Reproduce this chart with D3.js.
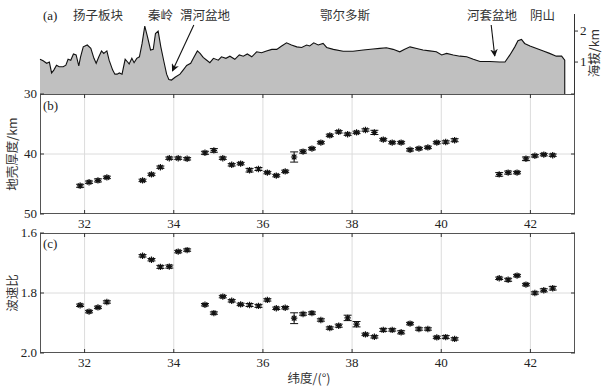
<!DOCTYPE html>
<html><head><meta charset="utf-8">
<script src="https://cdn.jsdelivr.net/npm/d3@7"></script>
<style>
body{margin:0;background:#fff;}
svg{display:block;}
.num{font-family:"Liberation Serif","Times New Roman",serif;font-size:13px;fill:#222;}
.cjk{font-family:"Noto Sans CJK SC",sans-serif;font-size:12.5px;fill:#333;}
</style></head><body>
<svg id="c" width="611" height="387"></svg>
<script>
// ---- data ----
const topoLat = [31.00,31.07,31.15,31.21,31.26,31.31,31.37,31.43,31.52,31.58,31.63,31.69,31.75,31.81,31.87,31.91,31.97,32.06,32.14,32.21,32.26,32.32,32.38,32.43,32.50,32.55,32.63,32.68,32.73,32.78,32.84,32.91,32.96,33.00,33.06,33.11,33.17,33.23,33.29,33.35,33.41,33.48,33.54,33.59,33.65,33.71,33.78,33.84,33.89,33.95,34.03,34.14,34.21,34.29,34.38,34.44,34.53,34.59,34.66,34.74,34.81,34.89,35.00,35.07,35.17,35.26,35.37,35.47,35.56,35.65,35.75,35.86,35.97,36.08,36.20,36.31,36.42,36.53,36.64,36.76,36.87,36.98,37.05,37.14,37.24,37.35,37.43,37.58,37.80,38.02,38.25,38.47,38.62,38.77,38.92,39.07,39.18,39.30,39.45,39.59,39.74,39.89,40.01,40.12,40.27,40.42,40.57,40.72,40.87,41.09,41.31,41.43,41.54,41.65,41.72,41.80,41.87,41.99,42.14,42.29,42.43,42.58,42.70,42.77];
const topoElev = [1.09,1.04,0.96,1.00,0.65,0.74,0.90,0.85,0.85,0.90,1.09,1.06,1.26,1.23,0.88,1.17,1.49,1.55,1.44,1.12,0.96,1.17,1.36,1.28,1.36,1.06,0.74,0.61,0.61,0.65,0.61,1.09,1.01,0.94,1.12,0.98,1.12,1.17,1.60,2.16,1.82,1.39,1.41,1.92,2.00,1.49,1.01,0.61,0.44,0.42,0.51,0.61,0.74,0.89,0.96,1.12,1.36,1.28,1.15,1.06,0.98,1.12,1.06,1.17,1.12,1.19,1.09,1.23,1.19,1.26,1.17,1.33,1.30,1.36,1.41,1.41,1.52,1.62,1.55,1.49,1.47,1.55,1.52,1.62,1.55,1.60,1.47,1.41,1.35,1.35,1.39,1.42,1.44,1.46,1.41,1.33,1.41,1.49,1.44,1.39,1.36,1.33,1.23,1.28,1.23,1.19,1.17,1.09,1.02,1.02,1.00,1.00,1.23,1.49,1.69,1.73,1.60,1.52,1.44,1.36,1.28,1.19,1.19,1.06];

const stationLat = [31.9,32.1,32.3,32.5,33.3,33.5,33.7,33.9,34.1,34.3,34.7,34.9,35.1,35.3,35.5,35.7,35.9,36.1,36.3,36.5,36.7,36.9,37.1,37.3,37.5,37.7,37.9,38.1,38.3,38.5,38.7,38.9,39.1,39.3,39.5,39.7,39.9,40.1,40.3,41.3,41.5,41.7,41.9,42.1,42.3,42.5];
const thickness = [45.3,44.7,44.4,43.9,44.4,43.4,42.2,40.7,40.7,40.8,39.8,39.4,40.7,41.8,41.6,42.7,42.5,43.1,43.6,42.9,40.5,39.6,39.1,38.1,36.9,36.3,36.7,36.4,36.0,36.4,37.6,38.1,38.1,39.3,39.1,38.9,38.1,38.0,37.7,43.4,43.1,43.1,40.8,40.3,40.1,40.2];
const thicknessErr = [0.25,0.2,0.25,0.2,0.2,0.2,0.2,0.2,0.2,0.2,0.25,0.3,0.2,0.2,0.2,0.3,0.25,0.2,0.2,0.2,0.85,0.25,0.2,0.2,0.2,0.2,0.2,0.2,0.2,0.35,0.2,0.2,0.2,0.2,0.2,0.2,0.2,0.2,0.25,0.3,0.25,0.2,0.3,0.2,0.2,0.2];
const vpvs = [1.841,1.862,1.848,1.830,1.676,1.689,1.713,1.712,1.662,1.657,1.839,1.867,1.812,1.826,1.838,1.840,1.843,1.823,1.851,1.849,1.884,1.870,1.867,1.890,1.917,1.909,1.883,1.904,1.938,1.946,1.923,1.923,1.931,1.902,1.920,1.920,1.948,1.947,1.953,1.751,1.756,1.742,1.772,1.800,1.791,1.784];
const vpvsErr = [0.004,0.004,0.004,0.004,0.004,0.004,0.005,0.005,0.004,0.004,0.004,0.004,0.004,0.004,0.004,0.005,0.005,0.004,0.004,0.004,0.018,0.004,0.004,0.004,0.004,0.005,0.009,0.009,0.004,0.004,0.005,0.004,0.005,0.004,0.004,0.004,0.004,0.005,0.004,0.004,0.005,0.004,0.004,0.004,0.005,0.006];

const xTicks = [32,34,36,38,40,42];
const thickTicks = [30,40,50];
const vpvsTicks = [1.6,1.8,2.0];
const elevTicks = [1,2];
const regionNames = ["扬子板块","秦岭","渭河盆地","鄂尔多斯","河套盆地","阴山"];
const regionLat = [31.74,33.42,34.14,37.28,40.58,41.99];

// ---- drawing ----
const svg = d3.select("#c");
const L=40,R=575;
const x = d3.scaleLinear([31,43],[L,R]);
const ya = d3.scaleLinear([-0.03,2.55],[94,14]);
const yb = d3.scaleLinear([30,50],[94,214]);
const yc = d3.scaleLinear([1.6,2.0],[233,353]);

// panel a
const topo = topoLat.map((d,i)=>({lat:d,e:topoElev[i]}));
svg.append("path").datum(topo)
  .attr("d",d3.area().x(d=>x(d.lat)).y0(ya(-0.03)).y1(d=>ya(d.e)))
  .attr("fill","#c0c0c0");
const last = topo[topo.length-1];
svg.append("path").datum(topo.concat([{lat:last.lat,e:-0.03}]))
  .attr("d",d3.line().x(d=>x(d.lat)).y(d=>ya(d.e)))
  .attr("fill","none").attr("stroke","#111").attr("stroke-width",1.1);
// right axis panel a
const axA = svg.append("g");
axA.append("line").attr("x1",R-0.5).attr("x2",R-0.5).attr("y1",14).attr("y2",94).attr("stroke","#333");
elevTicks.forEach(t=>{
  axA.append("line").attr("x1",R-0.5).attr("x2",R+3).attr("y1",ya(t)).attr("y2",ya(t)).attr("stroke","#333");
  axA.append("text").attr("class","num").attr("x",R+5).attr("y",ya(t)+4).text(t);
});
svg.append("text").attr("class","cjk").attr("transform","translate(599,53) rotate(-90)")
  .attr("text-anchor","middle").text("海拔/km");
svg.append("text").attr("class","num").attr("x",43).attr("y",20).text("(a)");
regionNames.forEach((n,i)=>{
  svg.append("text").attr("class","cjk").attr("x",x(regionLat[i])).attr("y",20).text(n);
});
// arrows
const defs = svg.append("defs");
defs.append("marker").attr("id","ah").attr("viewBox","0 0 10 10").attr("refX",9).attr("refY",5)
  .attr("markerWidth",7).attr("markerHeight",7).attr("orient","auto")
  .append("path").attr("d","M0,0 L10,5 L0,10 L3,5 Z").attr("fill","#111");
svg.append("line").attr("x1",x(34.45)).attr("y1",25).attr("x2",x(33.97)).attr("y2",71)
  .attr("stroke","#111").attr("stroke-width",1.1).attr("marker-end","url(#ah)");
svg.append("line").attr("x1",x(41.12)).attr("y1",25).attr("x2",x(41.2)).attr("y2",56)
  .attr("stroke","#111").attr("stroke-width",1.1).attr("marker-end","url(#ah)");

function panel(y, ticks, fmt, top, bottom, mid, label, labY, vals, errs, title, titleY){
  const g = svg.append("g");
  // grid
  xTicks.forEach(t=>g.append("line").attr("x1",x(t)).attr("x2",x(t)).attr("y1",top).attr("y2",bottom).attr("stroke","#dcdcdc"));
  g.append("line").attr("x1",L).attr("x2",R).attr("y1",y(mid)).attr("y2",y(mid)).attr("stroke","#dcdcdc");
  // frame
  g.append("rect").attr("x",L+0.5).attr("y",top+0.5).attr("width",R-L-1).attr("height",bottom-top-1)
    .attr("fill","none").attr("stroke","#555");
  // ticks
  xTicks.forEach(t=>{
    g.append("line").attr("x1",x(t)).attr("x2",x(t)).attr("y1",bottom).attr("y2",bottom-4).attr("stroke","#333");
    g.append("line").attr("x1",x(t)).attr("x2",x(t)).attr("y1",top).attr("y2",top+4).attr("stroke","#333");
    g.append("text").attr("class","num").attr("x",x(t)).attr("y",bottom+14).attr("text-anchor","middle").text(t);
  });
  ticks.forEach(t=>{
    g.append("line").attr("x1",L).attr("x2",L+4).attr("y1",y(t)).attr("y2",y(t)).attr("stroke","#333");
    g.append("line").attr("x1",R).attr("x2",R-4).attr("y1",y(t)).attr("y2",y(t)).attr("stroke","#333");
    g.append("text").attr("class","num").attr("x",L-3).attr("y",y(t)+4).attr("text-anchor","end").text(fmt(t));
  });
  g.append("text").attr("class","num").attr("x",43).attr("y",labY).text(label);
  svg.append("text").attr("class","cjk").attr("transform",`translate(17,${titleY}) rotate(-90)`)
    .attr("text-anchor","middle").text(title);
  // data
  const pts = stationLat.map((d,i)=>({lat:d,v:vals[i],e:errs[i]}));
  const m = g.selectAll("g.pt").data(pts).join("g").attr("class","pt")
    .attr("transform",d=>`translate(${x(d.lat)},0)`);
  m.append("line").attr("y1",d=>y(d.v-d.e)).attr("y2",d=>y(d.v+d.e)).attr("stroke","#111");
  m.append("line").attr("x1",-4).attr("x2",4).attr("y1",d=>y(d.v-d.e)).attr("y2",d=>y(d.v-d.e)).attr("stroke","#111");
  m.append("line").attr("x1",-4).attr("x2",4).attr("y1",d=>y(d.v+d.e)).attr("y2",d=>y(d.v+d.e)).attr("stroke","#111");
  const r=3.2, q=r*0.72;
  m.append("path").attr("d",d=>{const c=y(d.v);
    return `M${-r},${c}H${r}M0,${c-r}V${c+r}M${-q},${c-q}L${q},${c+q}M${-q},${c+q}L${q},${c-q}`;})
    .attr("stroke","#111").attr("stroke-width",1.2).attr("fill","none");
}
panel(yb, thickTicks, d=>d, 94, 214, 40, "(b)", 110, thickness, thicknessErr, "地壳厚度/km", 154);
panel(yc, vpvsTicks, d=>d.toFixed(1), 233, 353, 1.8, "(c)", 248, vpvs, vpvsErr, "波速比", 293);

svg.append("text").attr("class","cjk").attr("x",309).attr("y",383).attr("text-anchor","middle").text("纬度/(°)");
</script></body></html>
